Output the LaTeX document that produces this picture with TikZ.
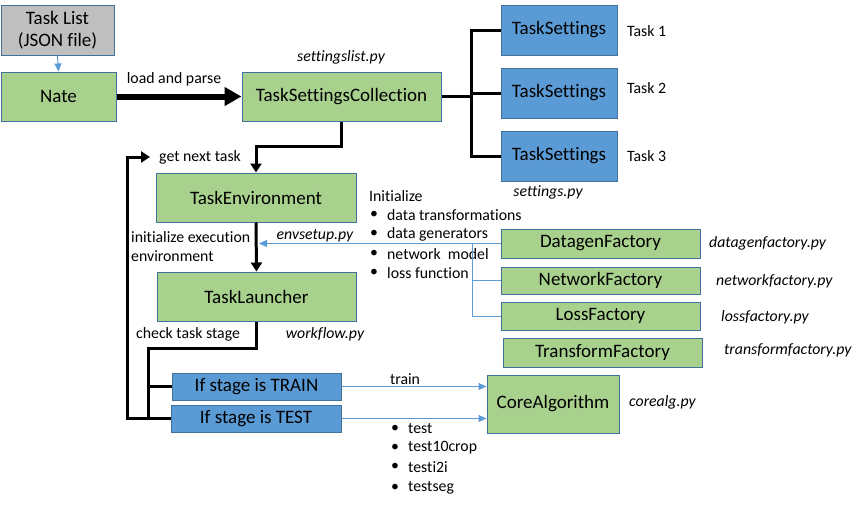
\documentclass[tikz,border=0pt]{standalone}
\usepackage{fontspec}
\setmainfont{Carlito}[Ligatures=NoCommon]
\usetikzlibrary{arrows.meta}
\definecolor{gfill}{HTML}{A9D18E}
\definecolor{bfill}{HTML}{5B9BD5}
\definecolor{gray1}{HTML}{BFBFBF}
\definecolor{edge}{HTML}{41719C}
\definecolor{lblue}{HTML}{5B9BD5}
\tikzset{
  boxbase/.style={draw=edge, line width=1pt, inner sep=0pt, font=\fontsize{19}{22}\selectfont, text=black},
  gbox/.style={boxbase, fill=gfill},
  bbox/.style={boxbase, fill=bfill},
  graybox/.style={boxbase, fill=gray1, align=center},
  lbl/.style={inner sep=0pt, font=\fontsize{15.8}{19}\selectfont},
  ilbl/.style={lbl, font=\fontsize{15.8}{19}\selectfont\itshape},
  thickline/.style={line width=3pt},
  thickarrow/.style={line width=3pt, -{Triangle[width=11pt,length=9pt]}},
  bluearrow/.style={lblue, line width=1pt, -{Triangle[width=7pt,length=8pt]}},
  blueline/.style={lblue, line width=1pt},
}
\begin{document}
\begin{tikzpicture}[x=1pt,y=-1pt]
\useasboundingbox (0,0) rectangle (863,506);
% boxes
\node[graybox, minimum width=113pt, minimum height=50pt] (tasklist) at (57.5,30) {Task List\\(JSON file)};
\node[gbox, minimum width=115pt, minimum height=49pt] (nate) at (58.5,96.5) {Nate};
\node[gbox, minimum width=199pt, minimum height=49pt] (tsc) at (341.5,96.5) {TaskSettingsCollection};
\node[bbox, minimum width=116pt, minimum height=50pt] (ts1) at (559,30) {TaskSettings};
\node[bbox, minimum width=116pt, minimum height=50pt] (ts2) at (559,93) {TaskSettings};
\node[bbox, minimum width=116pt, minimum height=50pt] (ts3) at (559,156) {TaskSettings};
\node[gbox, minimum width=200pt, minimum height=49pt] (te) at (256,197.5) {TaskEnvironment};
\node[gbox, minimum width=199pt, minimum height=49pt] (tl) at (256.5,296.5) {TaskLauncher};
\node[gbox, minimum width=199pt, minimum height=29pt] (dg) at (600.5,243.5) {DatagenFactory};
\node[gbox, minimum width=199pt, minimum height=27pt] (nf) at (600.5,280.5) {NetworkFactory};
\node[gbox, minimum width=199pt, minimum height=28pt] (lf) at (600.5,316) {LossFactory};
\node[gbox, minimum width=199pt, minimum height=29pt] (tf) at (602.5,352.5) {TransformFactory};
\node[bbox, minimum width=169pt, minimum height=27pt] (train) at (256.5,386.5) {If stage is TRAIN};
\node[bbox, minimum width=170pt, minimum height=27pt] (test) at (256,418.5) {If stage is TEST};
\node[gbox, minimum width=132pt, minimum height=58pt] (core) at (553,404) {CoreAlgorithm};

% labels
\node[lbl] (lp) at (174,79) {load and parse};
\node[ilbl] (slpy) at (341,57) {settingslist.py};
\node[lbl, anchor=west] (t1) at (627,31) {Task 1};
\node[lbl, anchor=west] (t2) at (627,88) {Task 2};
\node[lbl, anchor=west] (t3) at (627,156) {Task 3};
\node[ilbl] (spy) at (548,192) {settings.py};
\node[lbl, anchor=west] (gnt) at (159,157) {get next task};
\node[lbl, anchor=west] (ie1) at (131,237) {initialize execution};
\node[lbl, anchor=west] (ie2) at (131,256) {environment};
\node[ilbl] (envpy) at (315,236) {envsetup.py};
\node[lbl, anchor=west] (init) at (369,196) {Initialize};
\foreach \y/\t/\n in {215/data transformations/a, 234/data generators/b, 254/network~ model/c, 273/loss function/d}{
  \node[lbl] (ib\n) at (374,\y) {\textbullet};
  \node[lbl, anchor=west] (it\n) at (387,\y) {\t};
}
\node[lbl, anchor=west] (cts) at (136,334) {check task stage};
\node[ilbl] (wfpy) at (325,334) {workflow.py};
\node[ilbl, anchor=west] (dgpy) at (709,243) {datagenfactory.py};
\node[ilbl, anchor=west] (nfpy) at (716,281) {networkfactory.py};
\node[ilbl, anchor=west] (lfpy) at (721,317) {lossfactory.py};
\node[ilbl, anchor=west] (tfpy) at (724,350) {transformfactory.py};
\node[lbl] (trl) at (405,379) {train};
\foreach \y/\t/\n in {429/test/a, 448/test10crop/b, 467/testi2i/c, 488/testseg/d}{
  \node[lbl] (tb\n) at (395,\y) {\textbullet};
  \node[lbl, anchor=west] (tt\n) at (408,\y) {\t};
}
\node[ilbl, anchor=west] (capy) at (629,402) {corealg.py};

% connectors
\draw[bluearrow] (tasklist.south) -- (nate.north);
\draw[line width=6pt, -{Triangle[width=18pt,length=17pt]}] (nate.east) -- (tsc.west);
\coordinate (jt) at (471,96.5);
\draw[thickline] (tsc.east) -- (jt);
\draw[thickline] (ts1.west) -| (jt |- ts3.west) -- (ts3.west);
\draw[thickline] (jt |- ts2.west) -- (ts2.west);
\draw[thickarrow] (tsc.south) -- ++(0,25) -| (te.north);
\draw[thickarrow] (te.south) -- (tl.north);
\coordinate (ba) at (259,243.5);
\draw[bluearrow] (dg.west) -- (ba);
\coordinate (jf) at (472,243.5);
\draw[blueline] (jf) |- (lf.west);
\draw[blueline] (jf |- nf.west) -- (nf.west);
\coordinate (jb) at (148,348);
\draw[thickline] (tl.south) |- (jb) -- (jb |- test.west) -- (test.west);
\draw[thickline] (jb |- train.west) -- (train.west);
\coordinate (lc) at (127,157);
\draw[thickarrow] (jb |- test.west) -| (lc) -- (150,157);
\draw[bluearrow] (train.east) -- (core.west |- train.east);
\draw[bluearrow] (test.east) -- (core.west |- test.east);
\end{tikzpicture}
\end{document}
